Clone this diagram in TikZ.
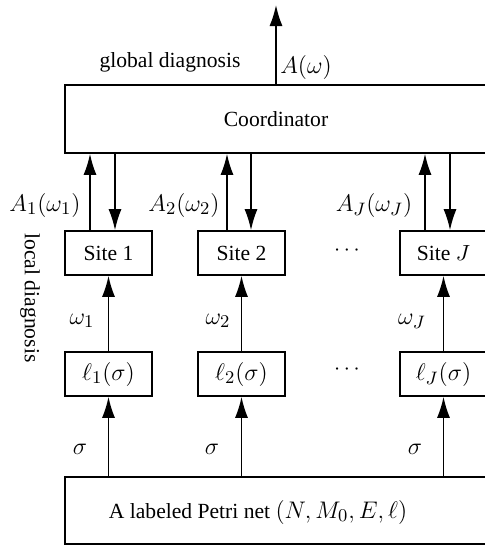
\documentclass[tikz,border=0pt]{standalone}
\usepackage{fontspec}
\setmainfont{Liberation Serif}
\usetikzlibrary{arrows.meta}
\newcommand\mymath[1]{{\fontsize{13.2}{16}\selectfont$#1$}}
\begin{document}
\begin{tikzpicture}[x=0.5pt,y=-0.5pt,
  every node/.style={font=\fontsize{10.8}{13}\selectfont},
  box/.style={draw,line width=0.8pt,inner sep=0pt},
  sbox/.style={box,minimum width=43.5pt,minimum height=22pt},
  bigbox/.style={box,minimum width=211pt,minimum height=34pt},
  arr/.style={line width=0.8pt,-{Latex[length=10.5pt,width=6.5pt]}}]
\clip (0,0) rectangle (485,546);
\node[bigbox] (c) at (276,119) {Coordinator};
\node[bigbox,minimum height=33.5pt] (p) at (276,510.5) {};
\node (ptxt) at (258,512) {A labeled Petri net \mymath{(N,M_0,E,\ell)}};
\node[sbox] (s1) at (108.5,253) {Site 1};
\node[sbox] (s2) at (241.5,253) {Site 2};
\node[sbox] (sJ) at (443.5,253) {Site $J$};
\node[sbox] (l1) at (108.5,374) {\mymath{\ell_1(\sigma)}};
\node[sbox] (l2) at (241.5,374) {\mymath{\ell_2(\sigma)}};
\node[sbox] (lJ) at (443.5,374) {\mymath{\ell_J(\sigma)}};
\node (d1) at (347,251) {$\cdots$};
\node (d2) at (347,370) {$\cdots$};
% top output
\coordinate (top) at (276,5);
\draw[arr] (c.north) -- (top);
\node (gd) at (170,62) {global diagnosis};
\node (aw) at (306,67) {\mymath{A(\omega)}};
% site <-> coordinator
\coordinate (u1) at (90,231);
\coordinate (u2) at (227,231);
\coordinate (uJ) at (425,231);
\coordinate (v1) at (115,153);
\coordinate (v2) at (251,153);
\coordinate (vJ) at (450,153);
\draw[arr] (u1) -- (u1 |- c.south);
\draw[arr] (u2) -- (u2 |- c.south);
\draw[arr] (uJ) -- (uJ |- c.south);
\draw[arr] (v1) -- (v1 |- s1.north);
\draw[arr] (v2) -- (v2 |- s2.north);
\draw[arr] (vJ) -- (vJ |- sJ.north);
\node (a1) at (45,205) {\mymath{A_1(\omega_1)}};
\node (a2) at (184,205) {\mymath{A_2(\omega_2)}};
\node (aJ) at (374,205) {\mymath{A_J(\omega_J)}};
% l -> site
\draw[arr] (l1.north) -- (s1.south);
\draw[arr] (l2.north) -- (s2.south);
\draw[arr] (lJ.north) -- (sJ.south);
\node (w1) at (82,321) {\mymath{\omega_1}};
\node (w2) at (218,321) {\mymath{\omega_2}};
\node (wJ) at (412,321) {\mymath{\omega_J}};
% petri -> l
\draw[arr] (l1.south |- p.north) -- (l1.south);
\draw[arr] (l2.south |- p.north) -- (l2.south);
\draw[arr] (lJ.south |- p.north) -- (lJ.south);
\node (g1) at (80,449) {\mymath{\sigma}};
\node (g2) at (212,449) {\mymath{\sigma}};
\node (gJ) at (415,449) {\mymath{\sigma}};
\node[rotate=-90] (ld) at (30,298) {local diagnosis};
\end{tikzpicture}
\end{document}
